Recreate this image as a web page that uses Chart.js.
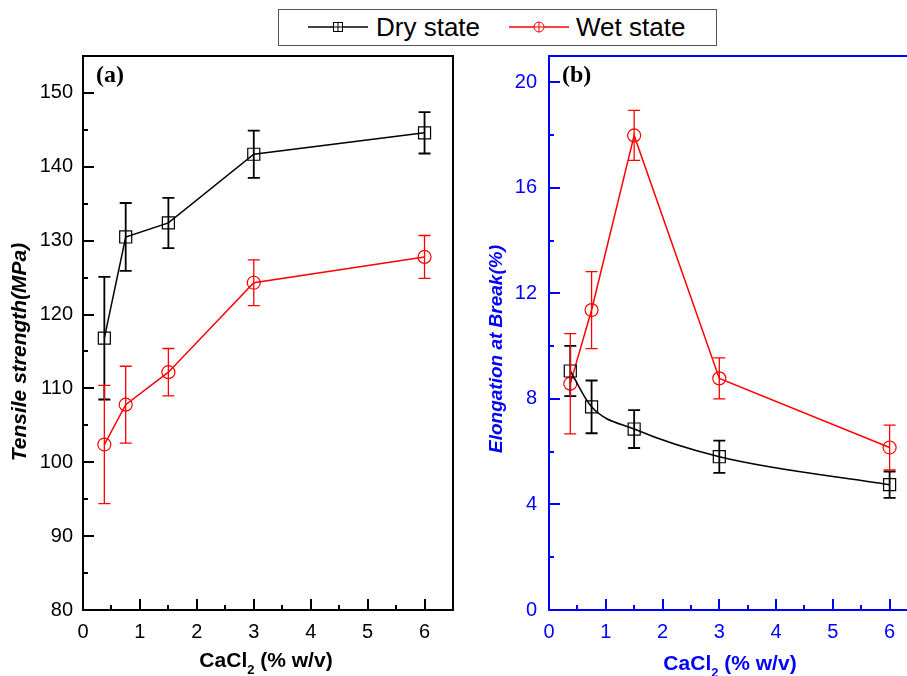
<!DOCTYPE html>
<html>
<head>
<meta charset="utf-8">
<script src="https://cdn.jsdelivr.net/npm/chart.js@4.4.1/dist/chart.umd.min.js"></script>
<style>
body{margin:0;overflow:hidden;background:#fff;width:907px;height:676px;position:relative;font-family:'Liberation Sans',Arial,sans-serif}
#ca{position:absolute;left:0;top:0}
#cb{position:absolute;left:465px;top:0}
#legend{position:absolute;left:278px;top:9px;width:437px;height:35px;border:1.5px solid #555;background:#fff;z-index:2}
.lt{position:absolute;top:2px;font-size:26px;line-height:30px;color:#000;white-space:nowrap}
.ls{position:absolute;top:7px}
</style>
</head>
<body>
<canvas id="ca" width="465" height="676"></canvas>
<canvas id="cb" width="470" height="676"></canvas>
<div id="legend">
  <svg class="ls" style="left:29px" width="60" height="20">
    <line x1="0" y1="10" x2="60" y2="10" stroke="#000" stroke-width="1.3"/>
    <rect x="25.5" y="5.5" width="9" height="9" fill="#fff" stroke="#000" stroke-width="1"/>
    <line x1="30" y1="5.5" x2="30" y2="14.5" stroke="#000" stroke-width="1"/>
    <line x1="25.5" y1="10" x2="34.5" y2="10" stroke="#000" stroke-width="1"/>
  </svg>
  <span class="lt" style="left:97px">Dry state</span>
  <svg class="ls" style="left:230px" width="60" height="20">
    <line x1="0" y1="10" x2="60" y2="10" stroke="#f00" stroke-width="1.3"/>
    <circle cx="30" cy="10" r="5" fill="#fff" stroke="#f00" stroke-width="1"/>
    <line x1="30" y1="5" x2="30" y2="15" stroke="#f00" stroke-width="1"/>
    <line x1="25" y1="10" x2="35" y2="10" stroke="#f00" stroke-width="1"/>
  </svg>
  <span class="lt" style="left:297px">Wet state</span>
</div>
<script>
// CaCl2 concentration (% w/v)
const cacl2 = [0.375, 0.75, 1.5, 3, 6];

// (a) tensile strength, MPa
const tensileDry = [116.8, 130.5, 132.4, 141.7, 144.6];
const tensileDryErr = [8.3, 4.6, 3.4, 3.2, 2.8];
const tensileWet = [102.4, 107.8, 112.2, 124.3, 127.8];
const tensileWetErr = [8.0, 5.2, 3.2, 3.1, 2.9];

// (b) elongation at break, %
const elongDry = [9.06, 7.7, 6.86, 5.81, 4.75];
const elongDryErr = [0.95, 1.0, 0.72, 0.61, 0.5];
const elongWet = [8.58, 11.37, 17.99, 8.78, 6.16];
const elongWetErr = [1.9, 1.46, 0.95, 0.78, 0.85];

// tick labels
const xTicks = [0, 1, 2, 3, 4, 5, 6];
const tensileTicks = [80, 90, 100, 110, 120, 130, 140, 150];
const elongTicks = [0, 4, 8, 12, 16, 20];

Chart.defaults.font.family = "'Liberation Sans', Arial, sans-serif";

function pts(ys) {
	return cacl2.map(function(x, i) { return { x: x, y: ys[i] }; });
}

// error bars, inner ticks, frame, titles
var deco = {
	id: 'deco',
	afterDatasetsDraw: function(chart, args, o) {
		var ctx = chart.ctx, xs = chart.scales.x, ys = chart.scales.y;
		ctx.save();
		chart.data.datasets.forEach(function(ds, i) {
			var err = o.errors[i];
			ctx.strokeStyle = ds.borderColor;
			ctx.lineWidth = o.errWidth[i];
			ds.data.forEach(function(p, j) {
				var px = xs.getPixelForValue(p.x);
				var top = ys.getPixelForValue(p.y + err[j]);
				var bot = ys.getPixelForValue(p.y - err[j]);
				ctx.beginPath();
				ctx.moveTo(px, top); ctx.lineTo(px, bot);
				ctx.moveTo(px - 6, top); ctx.lineTo(px + 6, top);
				ctx.moveTo(px - 6, bot); ctx.lineTo(px + 6, bot);
				ctx.stroke();
			});
		});
		ctx.restore();
	},
	afterDraw: function(chart, args, o) {
		var ctx = chart.ctx, a = chart.chartArea, xs = chart.scales.x, ys = chart.scales.y;
		ctx.save();
		ctx.strokeStyle = o.color;
		ctx.fillStyle = o.color;
		ctx.lineWidth = 2;
		ctx.strokeRect(a.left, a.top, a.right - a.left, a.bottom - a.top);

		// ticks pointing inward, every other one is major
		var k, len, px, py;
		var nx = Math.round((xs.max - xs.min) / o.minorX);
		for (k = 0; k <= nx; k++) {
			px = Math.round(xs.getPixelForValue(xs.min + k * o.minorX));
			len = (k % 2 === 0) ? 11 : 5;
			ctx.beginPath();
			ctx.moveTo(px, a.bottom);
			ctx.lineTo(px, a.bottom - len);
			ctx.stroke();
		}
		var ny = Math.round((ys.max - ys.min) / o.minorY);
		for (k = 0; k <= ny; k++) {
			py = Math.round(ys.getPixelForValue(ys.min + k * o.minorY));
			len = (k % 2 === 0) ? 11 : 5;
			ctx.beginPath();
			ctx.moveTo(a.left, py);
			ctx.lineTo(a.left + len, py);
			ctx.stroke();
		}

		// y title
		ctx.save();
		ctx.translate(o.yTitle.x, o.yTitle.y);
		ctx.rotate(-Math.PI / 2);
		ctx.font = 'italic bold ' + o.yTitle.size + "px 'Liberation Sans', Arial";
		ctx.textAlign = 'center';
		ctx.textBaseline = 'middle';
		ctx.fillText(o.yTitle.text, 0, 0);
		ctx.restore();

		// x title with subscript
		var big = "bold 21px 'Liberation Sans', Arial", small = "bold 13px 'Liberation Sans', Arial";
		ctx.font = big;
		var w1 = ctx.measureText('CaCl').width, w3 = ctx.measureText(' (% w/v)').width;
		ctx.font = small;
		var w2 = ctx.measureText('2').width;
		var sx = o.xTitle.x - (w1 + w2 + w3) / 2;
		ctx.textAlign = 'left';
		ctx.textBaseline = 'alphabetic';
		ctx.font = big;
		ctx.fillText('CaCl', sx, o.xTitle.y);
		ctx.font = small;
		ctx.fillText('2', sx + w1, o.xTitle.y + 7);
		ctx.font = big;
		ctx.fillText(' (% w/v)', sx + w1 + w2, o.xTitle.y);

		// panel letter
		ctx.fillStyle = '#000';
		ctx.font = "bold 24px 'Liberation Serif', 'Times New Roman', serif";
		ctx.textBaseline = 'middle';
		ctx.fillText(o.letter, a.left + 13, a.top + 20);
		ctx.restore();
	}
};

function axes(yMin, yMax, yTicks, yWidth, color, yPad) {
	return {
		x: {
			type: 'linear', min: 0, max: 6.5,
			afterBuildTicks: function(s) { s.ticks = xTicks.map(function(v) { return { value: v }; }); },
			afterFit: function(s) { s.height = 66; },
			grid: { display: false, drawTicks: false },
			border: { display: false },
			ticks: { padding: 10, color: color, font: { size: 20 } }
		},
		y: {
			type: 'linear', min: yMin, max: yMax,
			afterBuildTicks: function(s) { s.ticks = yTicks.map(function(v) { return { value: v }; }); },
			afterFit: function(s) { s.width = yWidth; },
			grid: { display: false, drawTicks: false },
			border: { display: false },
			ticks: { padding: yPad, color: color, font: { size: 20 } }
		}
	};
}

var chartA = new Chart(document.getElementById('ca'), {
	type: 'line',
	data: {
		datasets: [
			{ label: 'Dry state', data: pts(tensileDry), borderColor: '#000', borderWidth: 1.5,
			  pointStyle: 'rect', pointRadius: 8.5, pointBorderColor: '#000', pointBackgroundColor: 'rgba(0,0,0,0)', pointBorderWidth: 1.2 },
			{ label: 'Wet state', data: pts(tensileWet), borderColor: '#f00', borderWidth: 1.5,
			  pointStyle: 'circle', pointRadius: 6.5, pointBorderColor: '#f00', pointBackgroundColor: 'rgba(0,0,0,0)', pointBorderWidth: 1.2 }
		]
	},
	options: {
		responsive: false, animation: false, events: [],
		layout: { padding: { top: 56, right: 12, left: 0, bottom: 0 } },
		plugins: {
			legend: { display: false }, tooltip: { enabled: false },
			deco: {
				errors: [tensileDryErr, tensileWetErr], errWidth: [1.8, 1.3],
				color: '#000', minorX: 0.5, minorY: 5, letter: '(a)',
				yTitle: { text: 'Tensile strength(MPa)', x: 20, y: 352, size: 21 },
				xTitle: { x: 266, y: 667 }
			}
		},
		scales: axes(80, 155, tensileTicks, 83, '#000', 10)
	},
	plugins: [deco]
});

var chartB = new Chart(document.getElementById('cb'), {
	type: 'line',
	data: {
		datasets: [
			{ label: 'Dry state', data: pts(elongDry), borderColor: '#000', borderWidth: 1.5, cubicInterpolationMode: 'monotone',
			  pointStyle: 'rect', pointRadius: 8.5, pointBorderColor: '#000', pointBackgroundColor: 'rgba(0,0,0,0)', pointBorderWidth: 1.2 },
			{ label: 'Wet state', data: pts(elongWet), borderColor: '#f00', borderWidth: 1.5,
			  pointStyle: 'circle', pointRadius: 6.5, pointBorderColor: '#f00', pointBackgroundColor: 'rgba(0,0,0,0)', pointBorderWidth: 1.2 }
		]
	},
	options: {
		responsive: false, animation: false, events: [],
		layout: { padding: { top: 56, right: 17, left: 0, bottom: 0 } },
		plugins: {
			legend: { display: false }, tooltip: { enabled: false },
			deco: {
				errors: [elongDryErr, elongWetErr], errWidth: [1.8, 1.3],
				color: '#0000ff', minorX: 0.5, minorY: 2, letter: '(b)',
				yTitle: { text: 'Elongation at Break(%)', x: 32, y: 349, size: 19 },
				xTitle: { x: 265, y: 670 }
			}
		},
		scales: axes(0, 21, elongTicks, 84, '#0000ff', 12)
	},
	plugins: [deco]
});
</script>
</body>
</html>
